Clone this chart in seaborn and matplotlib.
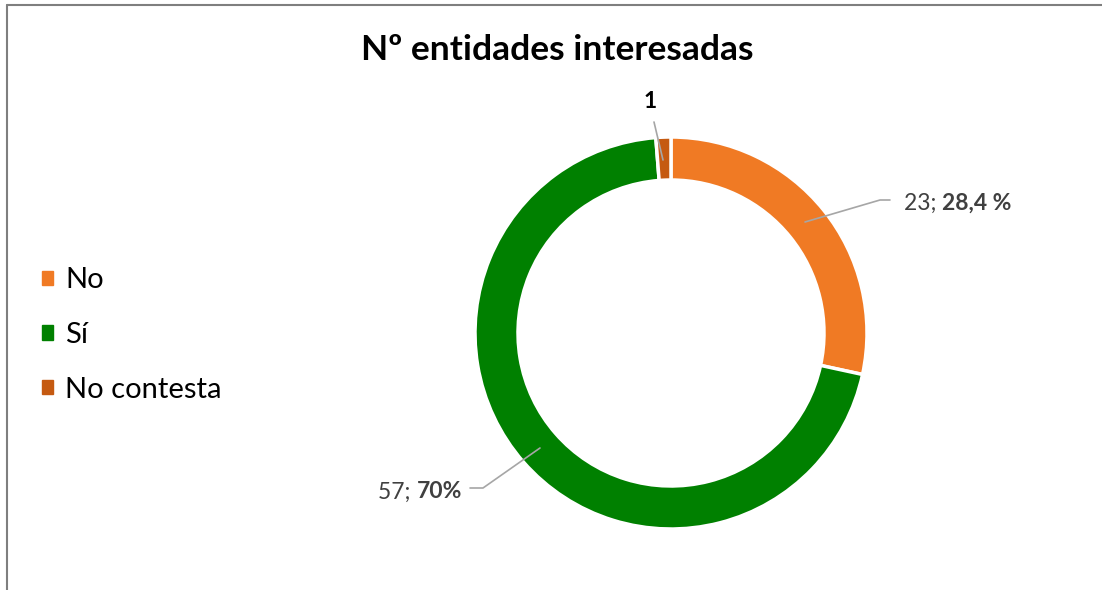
import matplotlib
matplotlib.use("Agg")
import matplotlib.pyplot as plt
import seaborn as sns
from matplotlib.patches import Patch
from matplotlib.lines import Line2D

# ===== Data =====
categories = ["No", "Sí", "No contesta"]
counts = [23, 57, 1]
pct_labels = ["28,4 %", "70%", ""]
colors = ["#F07A24", "#008000", "#C55A11"]
title = "Nº entidades interesadas"

# ===== Style =====
sns.set_theme(style="white")
plt.rcParams["font.family"] = ["Lato", "DejaVu Sans"]

W, H = 1102, 590
fig = plt.figure(figsize=(W / 100, H / 100), dpi=100)
ax = fig.add_axes([0, 0, 1, 1])

# chart border (top and left only visible)
ax.add_line(Line2D([7, W], [H - 5, H - 5], color="#7F7F7F", lw=1.5))
ax.add_line(Line2D([7, 7], [0, H - 5], color="#7F7F7F", lw=1.5))

# ===== Donut =====
cx, cy, r = 671, H - 333, 196
wedges, _ = ax.pie(
    counts, colors=colors, startangle=90, counterclock=False,
    center=(cx, cy), radius=r, frame=True,
    wedgeprops=dict(width=43, edgecolor="white", linewidth=2.5),
)
ax.set_xlim(0, W)
ax.set_ylim(0, H)
ax.set_aspect("equal")
ax.axis("off")

# ===== Title =====
ax.text(557, H - 50, title, ha="center", va="center", fontsize=25.5,
        fontweight="bold", color="black")

# ===== Data labels with leader lines =====
gray = "#404040"
line_c = "#A6A6A6"
lab_fs = 16.5

def two_part_label(x, y, plain, bold, ha="left"):
    fig.canvas.draw()
    r_ = fig.canvas.get_renderer()
    t1 = ax.text(0, 0, plain, fontsize=lab_fs, color=gray, va="center")
    t2 = ax.text(0, 0, bold, fontsize=lab_fs, color=gray, va="center", fontweight="bold")
    w1 = t1.get_window_extent(r_).width
    w2 = t2.get_window_extent(r_).width
    x0 = x if ha == "left" else x - w1 - w2
    t1.set_position((x0, y))
    t2.set_position((x0 + w1, y))

# No
ax.plot([805, 880, 890], [H - 222, H - 200, H - 200], color=line_c, lw=1.2)
two_part_label(904, H - 203, f"{counts[0]}; ", pct_labels[0])
# Sí
ax.plot([540, 483, 470], [H - 448, H - 488, H - 488], color=line_c, lw=1.2)
two_part_label(462, H - 492, f"{counts[1]}; ", pct_labels[1], ha="right")
# No contesta
ax.plot([654, 663], [H - 122, H - 160], color=line_c, lw=1.2)
ax.text(650, H - 101, str(counts[2]), ha="center", va="center", fontsize=16.5,
        fontweight="bold", color="black")

# ===== Legend =====
handles = [Patch(facecolor=c, edgecolor=c) for c in colors]
leg = fig.legend(handles, categories, loc="center left", bbox_to_anchor=(42 / W, 1 - 335 / H),
                 frameon=False, fontsize=21, handlelength=0.38, handleheight=0.38,
                 handletextpad=0.42, labelspacing=0.98, borderpad=0, borderaxespad=0)
for t in leg.get_texts():
    t.set_color("black")

fig.savefig("out.png", dpi=100)
